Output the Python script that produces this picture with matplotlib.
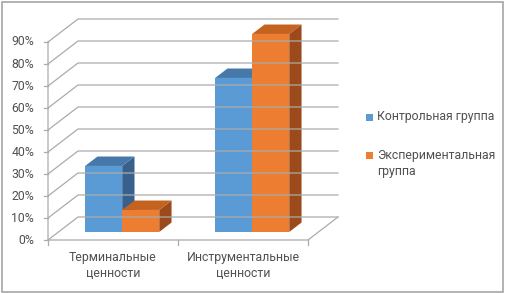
import matplotlib
matplotlib.use('Agg')
import matplotlib.pyplot as plt
from matplotlib.patches import Polygon, Rectangle
from matplotlib.transforms import IdentityTransform, offset_copy

categories = ['Терминальные\nценности', 'Инструментальные\nценности']
series_names = ['Контрольная группа', 'Экспериментальная\nгруппа']
control = [30, 70]
experimental = [10, 90]
ticks = [0, 10, 20, 30, 40, 50, 60, 70, 80, 90]

front_colors = ['#5B9BD5', '#ED7D31']
top_colors = ['#4679AA', '#C4621F']
side_colors = ['#37618C', '#9C4A1B']
grid_color = '#ABABAB'
text_color = '#505050'

plt.rcParams['font.family'] = ['Roboto', 'DejaVu Sans']

fig = plt.figure(figsize=(5.05, 2.93), dpi=100)
ax = fig.add_axes([48 / 505, 53 / 293, 260 / 505, 198 / 293])
ax.set_xlim(0, 2)
ax.set_ylim(0, 90)
ax.axis('off')

DX, DY = 30, 23  # depth offset of the back wall, pixels
ident = IdentityTransform()


def pt(x, v, d):
    px, py = ax.transData.transform((x, v))
    return (px + DX * d, py + DY * d)


def line(points, **kw):
    xs = [p[0] for p in points]
    ys = [p[1] for p in points]
    ax.plot(xs, ys, transform=ident, clip_on=False, color=grid_color, lw=0.9, **kw)


# walls and gridlines
for v in ticks:
    line([pt(0, v, 0), pt(0, v, 1), pt(len(categories), v, 1)])
line([pt(0, 90, 0), pt(0, 0, 0), pt(len(categories), 0, 0), pt(len(categories), 0, 1)])
for v in ticks:
    x0, y0 = pt(0, 0, 0)[0], pt(0, v, 0)[1]
    line([(x0 - 4, y0), (x0, y0)])
    ax.text(0, v, '{}%'.format(v), transform=offset_copy(ax.transData, fig=fig, x=-14, y=0, units='dots'),
            ha='right', va='center', fontsize=8.8, color=text_color)
for j in range(len(categories) + 1):
    xj, yj = pt(j, 0, 0)
    line([(xj, yj), (xj, yj - 5)])
for j, c in enumerate(categories):
    ax.text(j + 0.5, 0, c, transform=offset_copy(ax.transData, fig=fig, x=0, y=-11, units='dots'),
            ha='center', va='top', fontsize=8.8, color=text_color, linespacing=1.3)

# bars
d0, d1 = 0.35, 0.76
offset, width = 0.205, 0.285
for j in range(len(categories)):
    for i, vals in enumerate([control, experimental]):
        v = vals[j]
        xl = j + offset + i * width
        xr = xl + width
        front = [pt(xl, 0, d0), pt(xr, 0, d0), pt(xr, v, d0), pt(xl, v, d0)]
        top = [pt(xl, v, d0), pt(xr, v, d0), pt(xr, v, d1), pt(xl, v, d1)]
        side = [pt(xr, 0, d0), pt(xr, 0, d1), pt(xr, v, d1), pt(xr, v, d0)]
        for poly, col in [(side, side_colors[i]), (top, top_colors[i]), (front, front_colors[i])]:
            ax.add_patch(Polygon(poly, closed=True, transform=ident, clip_on=False,
                                 facecolor=col, edgecolor='none'))

# legend
legend_y = [117, 155]
for i, name in enumerate(series_names):
    y = legend_y[i]
    fig.add_artist(Rectangle((366 / 505, 1 - (y + 3.5) / 293), 7 / 505, 7 / 293,
                             transform=fig.transFigure, facecolor=front_colors[i], edgecolor='none'))
    fig.text(377 / 505, 1 - (y - 6.5) / 293, name, ha='left', va='top', fontsize=8.8,
             color=text_color, linespacing=1.4)

# chart border
fig.add_artist(Rectangle((1.5 / 505, 1.5 / 293), 501.5 / 505, 290 / 293, transform=fig.transFigure,
                         facecolor='none', edgecolor='#A6A6A6', lw=1.2))

fig.savefig('out.png', dpi=100)
